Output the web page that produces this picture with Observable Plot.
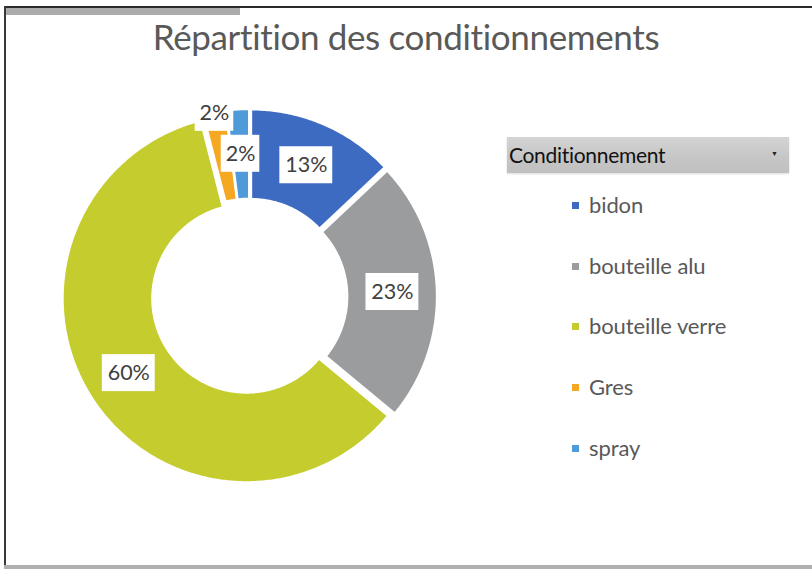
<!DOCTYPE html>
<html>
<head>
<meta charset="utf-8">
<script src="https://cdn.jsdelivr.net/npm/d3@7"></script>
<script src="https://cdn.jsdelivr.net/npm/@observablehq/plot@0.6"></script>
<style>
  html, body { margin: 0; padding: 0; background: #fff; }
  #page { position: relative; width: 812px; height: 569px; overflow: hidden; background: #fff; font-family: Lato, "Noto Sans", sans-serif; }
  #frameTop { position: absolute; left: 4px; top: 6px; width: 808px; height: 2px; background: #2a2a2a; }
  #frameLeft { position: absolute; left: 4px; top: 6px; width: 2px; height: 562px; background: #3a3a3a; }
  #frameBottom { position: absolute; left: 4px; top: 565px; width: 808px; height: 4px; background: #b0b0b0; }
  #tab { position: absolute; left: 6px; top: 8px; width: 234px; height: 7px; background: #ababab; }
  #title { position: absolute; left: 0; width: 812px; top: 15px; text-align: center; font-size: 35px; color: #595959; letter-spacing: -0.35px; }
  #chart { position: absolute; left: 39px; top: 86px; }
  #legendHead { position: absolute; left: 507px; top: 137px; width: 282px; height: 36px;
     background: linear-gradient(to bottom, #d4d4d4 0%, #c6c6c6 55%, #c0c0c0 100%);
     box-shadow: 0 1px 2px rgba(0,0,0,0.15); }
  #legendHead span.t { position: absolute; left: 2px; top: 5px; font-size: 21px; color: #111; letter-spacing: -0.3px; }
  #legendHead span.a { position: absolute; left: 264px; top: 12px; font-size: 7px; color: #222; }
  .item { position: absolute; left: 572px; height: 26px; font-size: 22px; color: #595959; white-space: nowrap; }
  .item i { position: absolute; left: 0; top: 11px; width: 7px; height: 7px; }
  .item span { position: absolute; left: 17px; top: 0; letter-spacing: -0.1px; }
</style>
</head>
<body>
<div id="page">
  <div id="frameTop"></div>
  <div id="frameLeft"></div>
  <div id="frameBottom"></div>
  <div id="tab"></div>
  <div id="title">Répartition des conditionnements</div>
  <div id="chart"></div>
  <div id="legendHead"><span class="t">Conditionnement</span><span class="a">▼</span></div>
</div>
<script>
// ---- data ----
const categories = ["bidon", "bouteille alu", "bouteille verre", "Gres", "spray"];
const values = [13, 23, 60, 2, 2];
const labels = ["13%", "23%", "60%", "2%", "2%"];
const colors = ["#3d6bc1", "#9b9c9e", "#c5cc2e", "#f6a823", "#4f9ad9"];
const outsideLabels = ["Gres"];

// ---- geometry (unit = 200px) ----
const outerR = 0.92, innerR = 0.47, explode = 0.018;
const pie = d3.pie().sort(null).value(d => d.value);
const arcs = pie(categories.map((c, i) => ({cat: c, value: values[i], label: labels[i]})));

const slicePts = [];
for (const a of arcs) {
  const mid = (a.startAngle + a.endAngle) / 2;
  const ox = Math.sin(mid) * explode, oy = Math.cos(mid) * explode;
  const n = Math.max(4, Math.ceil((a.endAngle - a.startAngle) / 0.01));
  for (let k = 0; k <= n; k++) {
    const t = a.startAngle + (a.endAngle - a.startAngle) * k / n;
    slicePts.push({cat: a.data.cat, x: ox + outerR * Math.sin(t), y: oy + outerR * Math.cos(t)});
  }
  for (let k = n; k >= 0; k--) {
    const t = a.startAngle + (a.endAngle - a.startAngle) * k / n;
    slicePts.push({cat: a.data.cat, x: ox + innerR * Math.sin(t), y: oy + innerR * Math.cos(t)});
  }
}

const unitPx = 200;
const labelData = arcs.map(a => {
  const mid = (a.startAngle + a.endAngle) / 2;
  const r = outsideLabels.includes(a.data.cat) ? 0.935 : 0.715;
  const w = (10 + 14.3 * a.data.label.length) / unitPx;
  const h = 37 / unitPx;
  const x = r * Math.sin(mid), y = r * Math.cos(mid);
  return {label: a.data.label, x, y, x1: x - w / 2, x2: x + w / 2, y1: y - h / 2, y2: y + h / 2};
});

const chart = Plot.plot({
  width: 420,
  height: 420,
  margin: 0,
  x: {domain: [-1.05, 1.05], axis: null},
  y: {domain: [-1.05, 1.05], axis: null},
  color: {domain: categories, range: colors},
  style: {background: "transparent", overflow: "visible"},
  marks: [
    Plot.line(slicePts, {x: "x", y: "y", z: "cat", fill: "cat", stroke: "white", strokeWidth: 2.5, curve: "linear-closed"}),
    Plot.rect(labelData, {x1: "x1", x2: "x2", y1: "y1", y2: "y2", fill: "white"}),
    Plot.text(labelData, {x: "x", y: "y", text: "label", fontSize: 21.5, fill: "#404040", fontFamily: "Lato, sans-serif"})
  ]
});
document.getElementById("chart").appendChild(chart);

// ---- legend ----
const legendY = [191, 252, 312, 373, 434];
const page = d3.select("#page");
categories.forEach((c, i) => {
  const it = page.append("div").attr("class", "item").style("top", legendY[i] + "px");
  it.append("i").style("background", colors[i]);
  it.append("span").text(c);
});
</script>
</body>
</html>
